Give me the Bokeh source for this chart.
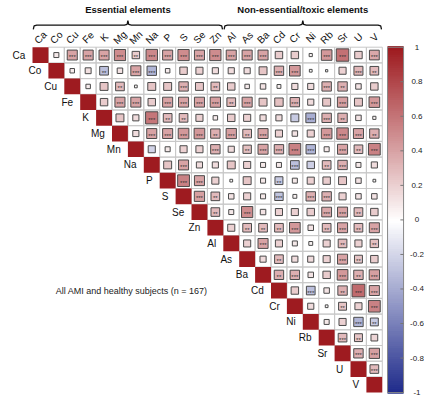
import numpy as np
from bokeh.plotting import figure
from bokeh.models import ColumnDataSource, LinearColorMapper, Range1d
from bokeh.core.properties import value
from bokeh.embed import file_html
from bokeh.resources import INLINE

# ---------------- data ----------------
elements = ["Ca", "Co", "Cu", "Fe", "K", "Mg", "Mn", "Na", "P", "S", "Se", "Zn",
            "Al", "As", "Ba", "Cd", "Cr", "Ni", "Rb", "Sr", "U", "V"]
group_names = ["Essential elements", "Non-essential/toxic elements"]
group_sizes = [12, 10]
subtitle = "All AMI and healthy subjects (n = 167)"

# correlation of each element with the elements that follow it (upper triangle)
r_Ca = [0.10, 0.40, 0.40, 0.40, 0.50, 0.22, 0.52, 0.40, 0.50, 0.40, 0.50, 0.40, 0.40, 0.40, 0.22, 0.22, 0.04, 0.45, 0.62, 0.22, 0.38]
r_Co = [0.08, 0.14, -0.30, 0.12, 0.40, -0.35, 0.08, 0.22, 0.20, 0.15, 0.15, 0.15, 0.25, 0.35, 0.45, 0.03, 0.02, 0.20, 0.32, 0.30]
r_Cu = [0.08, 0.25, 0.30, 0.03, 0.25, 0.25, 0.35, 0.25, 0.30, 0.22, 0.08, 0.12, 0.06, 0.15, 0.15, 0.35, 0.35, 0.12, 0.22]
r_Fe = [0.22, 0.40, 0.40, 0.22, 0.40, 0.40, 0.40, 0.42, 0.30, 0.40, 0.25, 0.28, 0.35, 0.15, 0.25, 0.42, 0.25, 0.45]
r_K = [0.25, 0.15, 0.60, 0.30, 0.30, 0.20, 0.08, 0.22, 0.20, 0.15, 0.15, -0.25, -0.38, 0.35, 0.35, 0.12, 0.04]
r_Mg = [0.15, 0.40, 0.40, 0.45, 0.45, 0.35, 0.42, 0.30, 0.40, 0.20, 0.12, 0.20, 0.45, 0.52, 0.40, 0.35]
r_Mn = [-0.20, 0.10, 0.20, 0.20, 0.35, 0.15, 0.28, 0.40, 0.35, 0.55, -0.35, 0.10, 0.40, 0.30, 0.55]
r_Na = [0.25, 0.40, 0.15, 0.15, 0.25, 0.20, 0.10, 0.10, -0.30, -0.22, 0.30, 0.35, 0.10, 0.15]
r_P = [0.55, 0.40, 0.20, 0.03, 0.25, 0.10, -0.25, 0.10, 0.20, 0.22, 0.25, 0.12, 0.03]
r_S = [0.42, 0.30, 0.12, 0.20, 0.10, -0.28, 0.06, 0.35, 0.35, 0.20, 0.12, 0.12]
r_Se = [0.30, 0.10, 0.50, 0.12, 0.20, 0.20, 0.22, 0.38, 0.40, 0.30, 0.22]
r_Zn = [0.20, 0.30, 0.30, 0.30, 0.45, 0.12, 0.30, 0.40, 0.30, 0.40]
r_Al = [0.20, 0.40, 0.20, 0.10, 0.06, 0.20, 0.30, 0.20, 0.28]
r_As = [0.15, 0.30, 0.15, 0.15, 0.20, 0.40, 0.25, 0.22]
r_Ba = [0.35, 0.35, 0.12, 0.22, 0.45, 0.35, 0.42]
r_Cd = [0.22, -0.30, 0.12, 0.35, 0.65, 0.40]
r_Cr = [0.15, 0.03, 0.25, 0.20, 0.55]
r_Ni = [0.10, 0.20, -0.35, -0.25]
r_Rb = [0.30, 0.25, 0.18]
r_Sr = [0.35, 0.42]
r_U = [0.30]

# number of significance stars per cell
s_Ca = [0, 3, 3, 3, 3, 2, 3, 3, 3, 3, 3, 3, 3, 3, 0, 0, 0, 3, 3, 0, 3]
s_Co = [0, 0, 2, 0, 3, 3, 0, 0, 0, 0, 0, 0, 0, 3, 3, 0, 0, 0, 3, 2]
s_Cu = [0, 0, 2, 0, 0, 0, 3, 0, 2, 0, 0, 0, 0, 0, 0, 3, 2, 0, 0]
s_Fe = [0, 3, 3, 0, 3, 3, 3, 3, 2, 3, 0, 0, 3, 0, 0, 3, 0, 3]
s_K = [0, 0, 3, 2, 2, 0, 0, 0, 0, 0, 0, 0, 3, 3, 2, 0, 0]
s_Mg = [0, 3, 3, 3, 3, 2, 3, 2, 3, 0, 0, 0, 3, 3, 3, 2]
s_Mn = [0, 0, 0, 0, 3, 0, 2, 3, 3, 3, 3, 0, 3, 2, 3]
s_Na = [0, 3, 0, 0, 0, 0, 0, 0, 3, 0, 2, 3, 0, 0]
s_P = [3, 3, 0, 0, 0, 0, 2, 0, 0, 0, 0, 0, 0]
s_S = [3, 2, 0, 0, 0, 3, 0, 3, 3, 0, 0, 0]
s_Se = [2, 0, 3, 0, 0, 0, 0, 3, 3, 2, 0]
s_Zn = [0, 2, 2, 2, 3, 0, 2, 3, 2, 3]
s_Al = [0, 3, 0, 0, 0, 0, 2, 0, 2]
s_As = [0, 2, 0, 0, 0, 3, 2, 0]
s_Ba = [2, 3, 0, 0, 3, 2, 3]
s_Cd = [0, 3, 0, 2, 3, 3]
s_Cr = [0, 0, 2, 0, 3]
s_Ni = [0, 0, 3, 2]
s_Rb = [3, 2, 0]
s_Sr = [3, 3]
s_U = [3]

tick_vals = [1, 0.8, 0.6, 0.4, 0.2, 0, -0.2, -0.4, -0.6, -0.8, -1]
tick_labels = ["1", "0.8", "0.6", "0.4", "0.2", "0", "-0.2", "-0.4", "-0.6", "-0.8", "-1"]

r_rows = [r_Ca, r_Co, r_Cu, r_Fe, r_K, r_Mg, r_Mn, r_Na, r_P, r_S, r_Se, r_Zn,
          r_Al, r_As, r_Ba, r_Cd, r_Cr, r_Ni, r_Rb, r_Sr, r_U]
s_rows = [s_Ca, s_Co, s_Cu, s_Fe, s_K, s_Mg, s_Mn, s_Na, s_P, s_S, s_Se, s_Zn,
          s_Al, s_As, s_Ba, s_Cd, s_Cr, s_Ni, s_Rb, s_Sr, s_U]

# ---------------- layout constants (pixels) ----------------
W, H = 424, 400
CW, CH = 15.9, 15.7          # cell size in px
LEFT, TOP = 32, 46.7         # matrix origin in px
n = len(elements)

FONT = "Liberation Sans"

# palette -1 -> navy, 0 -> white, 1 -> dark red
def build_palette(nc=256):
    neg = np.array([30, 42, 138])
    mid = np.array([255, 255, 255])
    pos = np.array([158, 27, 32])
    cols = []
    for t in np.linspace(-1, 1, nc):
        c = mid + (neg - mid) * (-t) if t < 0 else mid + (pos - mid) * t
        c = np.round(c).astype(int)
        cols.append("#%02x%02x%02x" % tuple(c))
    return cols

mapper = LinearColorMapper(palette=build_palette(), low=-1, high=1)

p = figure(width=W, height=H, output_backend="svg", toolbar_location=None,
           x_axis_type=None, y_axis_type=None, min_border=0,
           x_range=Range1d(-LEFT / CW, (W - LEFT) / CW),
           y_range=Range1d((H - TOP) / CH, -TOP / CH))
p.outline_line_color = None
p.grid.visible = False
p.background_fill_color = "white"
p.border_fill_color = "white"

# ---------------- matrix ----------------
gx, gy = [], []
sx, sy, sr, sside, sstar = [], [], [], [], []
for i, (rr, ss) in enumerate(zip(r_rows, s_rows)):
    for k, (rv, sv) in enumerate(zip(rr, ss)):
        j = i + 1 + k
        gx.append(j + 0.5); gy.append(i + 0.5)
        sx.append(j + 0.5); sy.append(i + 0.5); sr.append(rv)
        sside.append(float(np.sqrt(abs(rv))))
        sstar.append("*" * sv)

p.rect(x=gx, y=gy, width=1, height=1, fill_color=None,
       line_color="#c8c8c8", line_width=1)

diag = ColumnDataSource(dict(x=[i + 0.5 for i in range(n)],
                             y=[i + 0.5 for i in range(n)],
                             r=[1.0] * n))
p.rect(x="x", y="y", width=1, height=1, source=diag,
       fill_color={"field": "r", "transform": mapper}, line_color=None)

src = ColumnDataSource(dict(x=sx, y=sy, r=sr, side=sside, stars=sstar,
                            ys=[v + 0.13 for v in sy]))
p.rect(x="x", y="y", width="side", height="side", source=src,
       fill_color={"field": "r", "transform": mapper},
       line_color="#4a4a4a", line_width=1)
p.text(x="x", y="ys", text="stars", source=src, text_font=value(FONT),
       text_font_size="6px", text_color="#333333",
       text_align="center", text_baseline="middle")

# row labels
p.text(x=[i - 0.45 for i in range(n)], y=[i + 0.5 for i in range(n)], text=elements,
       text_font=value(FONT), text_font_size="10px", text_color="#111111",
       text_align="right", text_baseline="middle")
# column labels (rotated)
p.text(x=[j + 0.5 for j in range(n)], y=[-0.62] * n, text=elements,
       text_font=value(FONT), text_font_size="10px", text_color="#111111",
       text_align="center", text_baseline="middle", angle=np.pi / 4)

# ---------------- group braces ----------------
y_line, d, e = -1.41, 0.28, 0.22
start = 0
bx, by = [], []
tx, ty = [], []
for gsize in group_sizes:
    a, b = start + 0.05, start + gsize - 0.05
    m = start + gsize / 2
    bx.append([a, a + 0.05, a + e, m - e, m - 0.05, m, m + 0.05, m + e, b - e, b - 0.05, b])
    by.append([y_line + d, y_line + 0.05, y_line, y_line, y_line - 0.05, y_line - d,
               y_line - 0.05, y_line, y_line, y_line + 0.05, y_line + d])
    tx.append(m); ty.append(-2.37)
    start += gsize
p.multi_line(xs=bx, ys=by, line_color="#111111", line_width=1.3)
p.text(x=tx, y=ty, text=group_names, text_font=value(FONT), text_font_size="9.5px",
       text_font_style="bold", text_color="#111111",
       text_align="center", text_baseline="middle")

# subtitle
p.text(x=[6.23], y=[15.56], text=[subtitle], text_font=value(FONT), text_font_size="9px",
       text_color="#222222", text_align="center", text_baseline="middle")

# ---------------- colour bar ----------------
bar_x0 = 22.33
bar_w = 16 / CW
half = n / 2
vals = np.linspace(-1, 1, 161)
vc = (vals[:-1] + vals[1:]) / 2
cb = ColumnDataSource(dict(x=[bar_x0 + bar_w / 2] * len(vc), y=list(half - half * vc),
                           r=list(vc)))
p.rect(x="x", y="y", width=bar_w, height=n / len(vc) * 2.0, source=cb,
       fill_color={"field": "r", "transform": mapper}, line_color=None)
p.rect(x=[bar_x0 + bar_w / 2], y=[half], width=bar_w, height=n,
       fill_color=None, line_color="#888888", line_width=1)
tv = np.array(tick_vals, dtype=float)
p.segment(x0=[bar_x0 + bar_w - 0.2] * len(tv), x1=[bar_x0 + bar_w] * len(tv),
          y0=list(half - half * tv), y1=list(half - half * tv),
          line_color="#777777", line_width=1)
p.text(x=[24.18] * len(tv), y=list(half - half * tv), text=tick_labels,
       text_font=value(FONT), text_font_size="8px", text_color="#222222",
       text_align="center", text_baseline="middle")

open("out.html", "w").write(file_html(p, INLINE))
